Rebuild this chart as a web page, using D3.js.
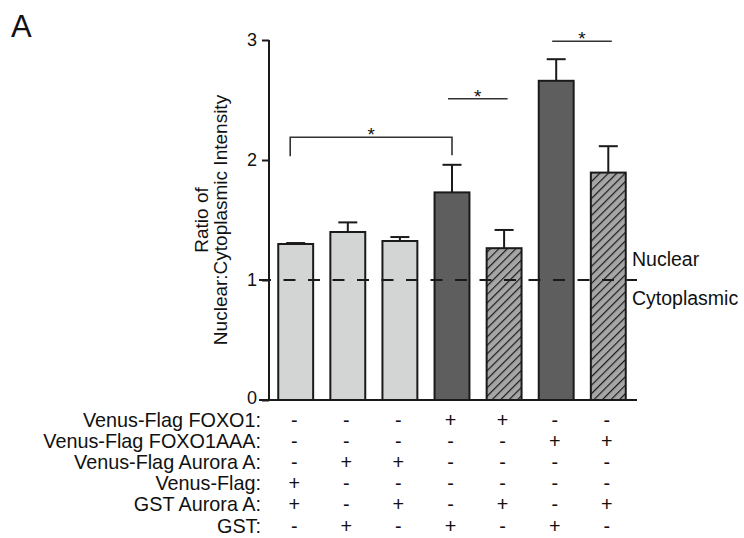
<!DOCTYPE html>
<html>
<head>
<meta charset="utf-8">
<script src="https://cdn.jsdelivr.net/npm/d3@7"></script>
<style>
  html, body { margin: 0; padding: 0; background: #fff; }
  svg { display: block; font-family: "Liberation Sans", Arial, sans-serif; }
</style>
</head>
<body>
<svg id="chart" width="744" height="538"></svg>
<script>
// ---- data ----
const conditions = ["c1", "c2", "c3", "c4", "c5", "c6", "c7"];
const ratioValues = [1.30, 1.40, 1.325, 1.73, 1.265, 2.66, 1.895];
const errorValues = [0.008, 0.08, 0.033, 0.23, 0.152, 0.18, 0.22];
const barStyles = ["light", "light", "light", "dark", "hatch", "dark", "hatch"];
const yTicks = [0, 1, 2, 3];
const rowLabels = ["Venus-Flag FOXO1:", "Venus-Flag FOXO1AAA:", "Venus-Flag Aurora A:", "Venus-Flag:", "GST Aurora A:", "GST:"];
const rowSigns = [
  ["-", "-", "-", "+", "+", "-", "-"],
  ["-", "-", "-", "-", "-", "+", "+"],
  ["-", "+", "+", "-", "-", "-", "-"],
  ["+", "-", "-", "-", "-", "-", "-"],
  ["+", "-", "+", "-", "+", "-", "+"],
  ["-", "+", "-", "+", "-", "+", "-"]
];
// significance brackets
const sigFrom = [0, 3, 5];
const sigTo = [3, 4, 6];
const sigLevel = [2.19, 2.51, 2.99];
const sigLegs = [true, false, false];
const refLine = 1;

// ---- layout ----
const svg = d3.select("#chart");
const y = d3.scaleLinear().domain([0, 3]).range([400, 40]);
const x = d3.scaleBand().domain(conditions).range([269.5, 634.5]).paddingInner(0.33).paddingOuter(0.168);
const bw = x.bandwidth();
const cx = i => x(conditions[i]) + bw / 2;

const fills = { light: "#d3d5d4", dark: "#5e5e5e", hatch: "url(#hatch)" };

const defs = svg.append("defs");
const pat = defs.append("pattern").attr("id", "hatch").attr("patternUnits", "userSpaceOnUse")
  .attr("width", 6).attr("height", 6).attr("patternTransform", "rotate(45)");
pat.append("rect").attr("width", 6).attr("height", 6).attr("fill", "#a6a6a6");
pat.append("line").attr("x1", 0).attr("y1", 0).attr("x2", 0).attr("y2", 6)
  .attr("stroke", "#1a1a1a").attr("stroke-width", 2.4);

// panel letter
svg.append("text").attr("x", 11).attr("y", 37).attr("font-size", 31).attr("fill", "#111").text("A");

// error bars (behind bars)
const eb = svg.append("g").attr("stroke", "#1a1a1a").attr("stroke-width", 2);
ratioValues.forEach((v, i) => {
  const top = y(v + errorValues[i]);
  eb.append("line").attr("x1", cx(i)).attr("x2", cx(i)).attr("y1", y(v)).attr("y2", top);
  eb.append("line").attr("x1", cx(i) - 9.5).attr("x2", cx(i) + 9.5).attr("y1", top).attr("y2", top);
});

// bars
svg.append("g").selectAll("rect").data(ratioValues).join("rect")
  .attr("x", (d, i) => x(conditions[i]))
  .attr("y", d => y(d))
  .attr("width", bw)
  .attr("height", d => y(0) - y(d))
  .attr("fill", (d, i) => fills[barStyles[i]])
  .attr("stroke", "#1a1a1a").attr("stroke-width", 2);

// y axis
const yAxis = svg.append("g").attr("transform", "translate(269,0)")
  .call(d3.axisLeft(y).tickValues(yTicks).tickFormat(d3.format("d")).tickSize(7).tickPadding(5));
yAxis.select(".domain").attr("stroke", "#1a1a1a").attr("stroke-width", 2).attr("d", "M0,40V400");
yAxis.selectAll(".tick line").attr("stroke", "#1a1a1a").attr("stroke-width", 2);
yAxis.selectAll(".tick text").attr("font-size", 18).attr("fill", "#111")
  .attr("font-family", "Liberation Sans, Arial, sans-serif")
  .attr("y", d => d === 0 ? -2.5 : 0);

// baseline
svg.append("line").attr("x1", 259).attr("x2", 637).attr("y1", y(0)).attr("y2", y(0))
  .attr("stroke", "#1a1a1a").attr("stroke-width", 2);

// dashed reference line
svg.append("line").attr("x1", 259).attr("x2", 637).attr("y1", y(refLine)).attr("y2", y(refLine))
  .attr("stroke", "#1a1a1a").attr("stroke-width", 2).attr("stroke-dasharray", "12,12.5");

svg.append("text").attr("x", 632).attr("y", 266).attr("font-size", 19.5).attr("fill", "#111").text("Nuclear");
svg.append("text").attr("x", 632).attr("y", 304.5).attr("font-size", 19.5).attr("fill", "#111").text("Cytoplasmic");

// y axis title
const yt = svg.append("text").attr("transform", "translate(0,220) rotate(-90)")
  .attr("text-anchor", "middle").attr("font-size", 19).attr("fill", "#111");
yt.append("tspan").attr("x", 0).attr("y", 208).text("Ratio of");
yt.append("tspan").attr("x", 0).attr("y", 227).text("Nuclear:Cytoplasmic Intensity");

// significance
const sg = svg.append("g");
sigFrom.forEach((f, k) => {
  const x1 = cx(f) - (k === 0 ? 5.5 : 4);
  const x2 = cx(sigTo[k]) + (k === 0 ? 0 : 3.5);
  const ly = y(sigLevel[k]);
  const d = sigLegs[k]
    ? `M${x1},${ly + 19}V${ly}H${x2}V${ly + 18}`
    : `M${x1},${ly}H${x2}`;
  sg.append("path").attr("d", d).attr("fill", "none").attr("stroke", "#333").attr("stroke-width", 1.6);
  sg.append("text").attr("x", (x1 + x2) / 2).attr("y", ly + 4).attr("text-anchor", "middle")
    .attr("font-size", 19).attr("fill", "#111").text("*");
});

// condition table
const tb = svg.append("g").attr("font-size", 19.8).attr("fill", "#111");
rowLabels.forEach((lab, r) => {
  const by = 426.5 + r * 21.2;
  tb.append("text").attr("x", 261).attr("y", by).attr("text-anchor", "end").text(lab);
  rowSigns[r].forEach((s, i) => {
    tb.append("text").attr("x", cx(i) - 1.5).attr("y", by).attr("text-anchor", "middle").text(s);
  });
});
</script>
</body>
</html>
